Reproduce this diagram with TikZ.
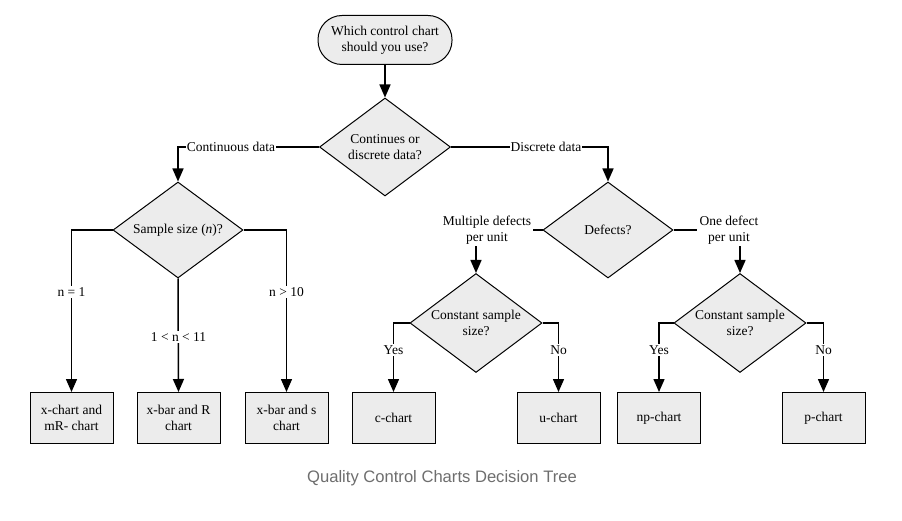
\documentclass[tikz,border=0pt]{standalone}
\usepackage{fontspec}
\setmainfont{Liberation Serif}
\newfontfamily\capfont{Liberation Sans}
\usetikzlibrary{shapes.geometric,arrows.meta}
\definecolor{boxfill}{HTML}{ECECEC}
\definecolor{capgray}{HTML}{6E6E6E}
\begin{document}
\begin{tikzpicture}[x=1pt,y=-1pt,
  txt/.style={font=\fontsize{13.5}{16}\selectfont, align=center},
  startbox/.style={draw, fill=boxfill, rounded corners=24pt, minimum width=134pt, minimum height=49pt, line width=1pt, txt},
  box/.style={draw, fill=boxfill, line width=1pt, minimum width=83pt, minimum height=51pt, inner sep=0pt, txt},
  dia/.style={draw, fill=boxfill, diamond, line width=1pt, inner sep=0pt},
  arr/.style={line width=1.5pt, -{Triangle[length=13pt,width=11pt]}},
  ln/.style={line width=1.5pt},
  lab/.style={txt, fill=white, inner xsep=0.8pt, inner ysep=1.5pt},
  plain/.style={txt, inner sep=2pt}]
\useasboundingbox (0,0) rectangle (902,521);
\fill[white] (0,0) rectangle (902,521);
% start
\node[startbox] (s) at (385,40) {Which control chart\\should you use?};
% diamonds
\node[dia, minimum width=131pt, minimum height=98pt] (d1) at (385,147) {};
\node[txt] (d1t) at (d1) {Continues or\\discrete data?};
\node[dia, minimum width=130pt, minimum height=96pt] (d2) at (178,230) {};
\node[txt] (d2t) at (d2) {Sample size (\textit{n})?};
\node[dia, minimum width=130pt, minimum height=96pt] (d3) at (608,230) {};
\node[txt] (d3t) at (d3) {Defects?};
\node[dia, minimum width=132pt, minimum height=99pt] (d4) at (476,323) {};
\node[txt] (d4t) at (d4) {Constant sample\\size?};
\node[dia, minimum width=132pt, minimum height=99pt] (d5) at (740,323) {};
\node[txt] (d5t) at (d5) {Constant sample\\size?};
% boxes
\node[box] (b1) at (71.5,418) {x-chart and\\mR- chart};
\node[box] (b2) at (178.5,418) {x-bar and R\\chart};
\node[box] (b3) at (286.5,418) {x-bar and s\\chart};
\node[box] (b4) at (393.5,418) {c-chart};
\node[box] (b5) at (558.5,418) {u-chart};
\node[box] (b6) at (659,418) {np-chart};
\node[box] (b7) at (823.5,418) {p-chart};
% side labels
\node[plain] (ml) at (487,230) {Multiple defects\\per unit};
\node[plain] (ol) at (729,230) {One defect\\per unit};
% connectors
\draw[arr] (s) -- (d1);
\draw[arr] (d1.west) -| (d2.north);
\draw[arr] (d1.east) -| (d3.north);
\draw[arr] (d2.west) -| (b1.north);
\draw[arr] (d2.south) -- (b2.north);
\draw[arr] (d2.east) -| (b3.north);
\draw[ln] (d3.west) -- (ml.east);
\draw[ln] (d3.east) -- (ol.west);
\draw[arr] (ml.south -| d4.north) -- (d4.north);
\draw[arr] (ol.south -| d5.north) -- (d5.north);
\draw[arr] (d4.west) -| (b4.north);
\draw[arr] (d4.east) -| (b5.north);
\draw[arr] (d5.west) -| (b6.north);
\draw[arr] (d5.east) -| (b7.north);
% labels on connectors
\node[lab] (l1) at (231,147) {Continuous data};
\node[lab] (l2) at (546,147) {Discrete data};
\node[lab] (l3) at (71.5,292) {n = 1};
\node[lab] (l4) at (178.5,337) {1 < n < 11};
\node[lab] (l5) at (286.5,292) {n > 10};
\node[lab] (l6) at (393.5,350) {Yes};
\node[lab] (l7) at (558.5,350) {No};
\node[lab] (l8) at (659,350) {Yes};
\node[lab] (l9) at (823.5,350) {No};
% caption
\node[font=\capfont\fontsize{16.6}{19}\selectfont, text=capgray] (cap) at (442,478) {Quality Control Charts Decision Tree};
\end{tikzpicture}
\end{document}
